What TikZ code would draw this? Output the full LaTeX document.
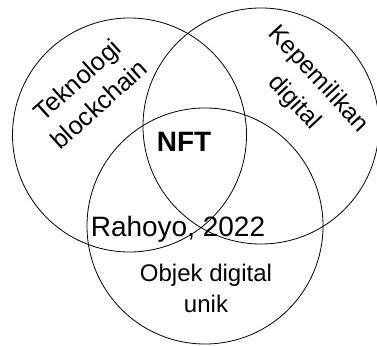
\documentclass[tikz,border=0pt]{standalone}
\usepackage{fontspec}
\setmainfont{Liberation Sans}
\usetikzlibrary{calc}

\begin{document}
\begin{tikzpicture}[x=0.75pt,y=0.75pt,
        ring/.style={line width=0.6pt},
        txt/.style={inner sep=0pt,align=center}]
        \useasboundingbox (0,0) rectangle (377,345);
        % 三个圆的圆心
        \coordinate (L) at (129.5,210);
        \coordinate (R) at (261,219);
        \coordinate (B) at (205,119);
        % 画三个圆
        \draw[ring] (L) circle (87.75pt);
        \draw[ring] (R) circle (88.5pt);
        \draw[ring] (B) circle (88.5pt);
        % 各圆的文字
        \node[txt,rotate=42,font=\fontsize{19}{24.5}\selectfont] (tek) at (88,253) {Teknologi\\blockchain};
        \node[txt,rotate=-47,font=\fontsize{18.5}{25}\selectfont] (kep) at (306,254) {Kepemilikan\\digital};
        \node[txt,font=\fontsize{18}{23.25}\selectfont] (obj) at (206,57) {Objek digital\\unik};
        % 中间的文字
        \node[txt,anchor=base,font=\fontsize{21}{25}\selectfont\bfseries] (nft) at (184,193) {NFT};
        \node[txt,anchor=base,font=\fontsize{21}{25}\selectfont] (src) at (178,108) {Rahoyo, 2022};
\end{tikzpicture}
\end{document}
